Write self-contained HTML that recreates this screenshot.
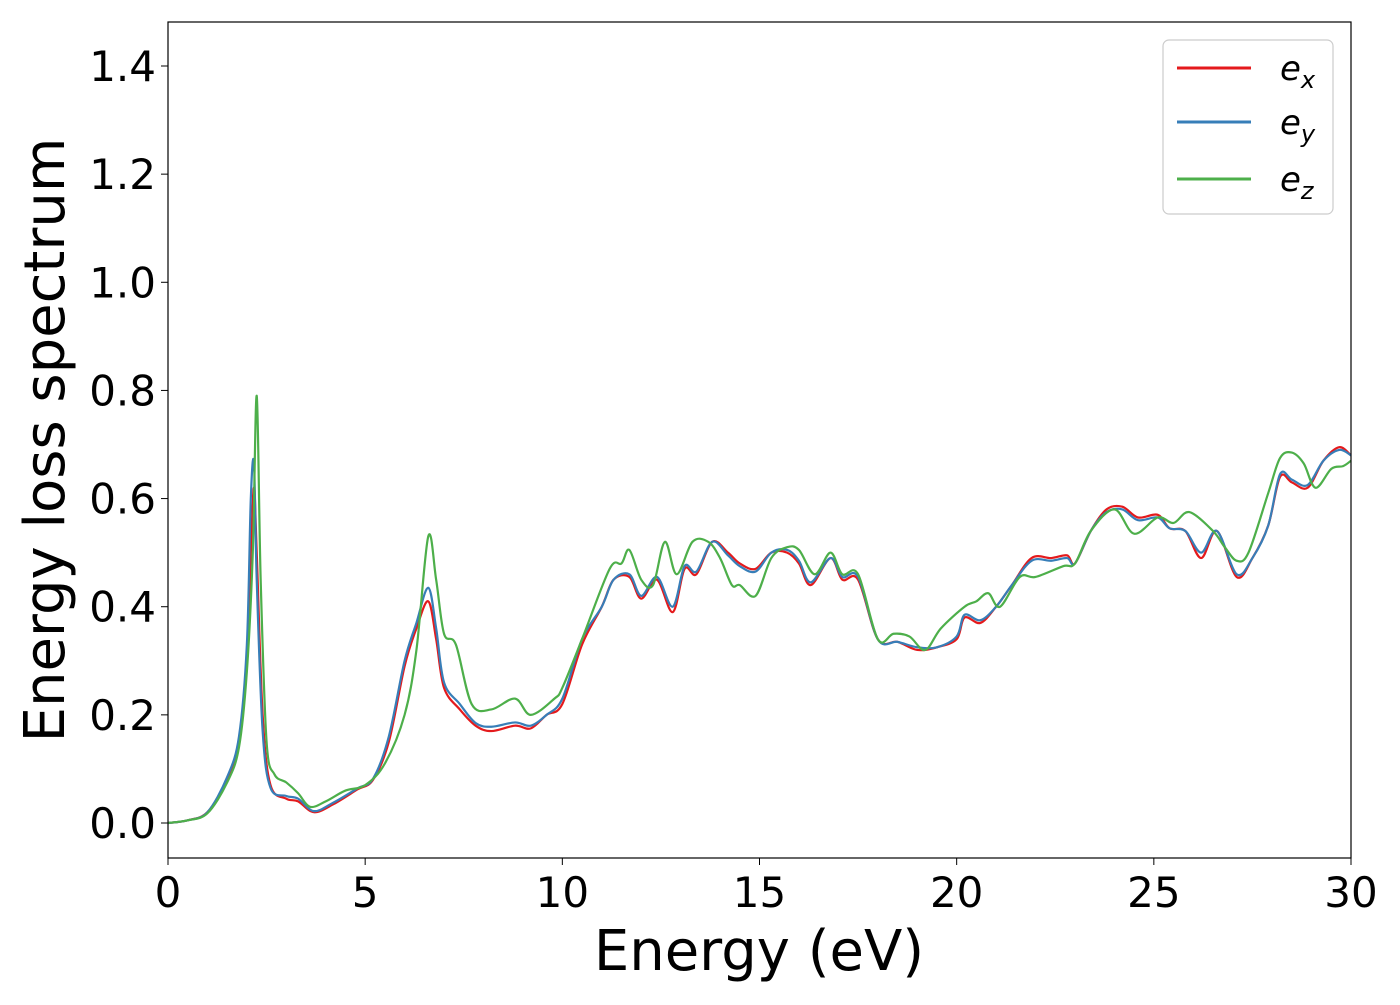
<!DOCTYPE html>
<html><head><meta charset="utf-8"><style>
body{margin:0;background:#fff;}
svg text{font-family:"DejaVu Sans","Liberation Sans",sans-serif;fill:#000;}
</style></head><body>
<svg id="chart" width="1400" height="1000" xmlns="http://www.w3.org/2000/svg">
<rect x="0" y="0" width="1400" height="1000" fill="#fff"/>
<g id="plot"></g>
<rect x="168" y="22" width="1183" height="836" fill="none" stroke="#000" stroke-width="1.2"/>
<g id="ticks"></g>
<text x="759" y="970" font-size="56" text-anchor="middle">Energy (eV)</text>
<text transform="translate(64,440) rotate(-90)" font-size="56" text-anchor="middle">Energy loss spectrum</text>
<g>
<rect x="1163" y="40" width="170" height="174" rx="6" fill="#fff" stroke="#ccc" stroke-width="1.2"/>
<g><line x1="1177" y1="68" x2="1251" y2="68" stroke="#e41a1c" stroke-width="3"/><text x="1280" y="80" font-size="34" font-style="italic">e<tspan font-size="24" dy="8">x</tspan></text></g>
<g><line x1="1177" y1="122" x2="1251" y2="122" stroke="#377eb8" stroke-width="3"/><text x="1280" y="134" font-size="34" font-style="italic">e<tspan font-size="24" dy="8">y</tspan></text></g>
<g><line x1="1177" y1="179" x2="1251" y2="179" stroke="#4daf4a" stroke-width="3"/><text x="1280" y="191" font-size="34" font-style="italic">e<tspan font-size="24" dy="8">z</tspan></text></g>
</g>
</svg>
<script>
const xTicks=[0,5,10,15,20,25,30];
const yTicks=[0.0,0.2,0.4,0.6,0.8,1.0,1.2,1.4];
const exX=[0,0.5,1,1.5,1.8,2.0,2.1,2.18,2.25,2.4,2.6,3.0,3.3,3.7,4.2,4.8,5.2,5.6,6.0,6.3,6.6,6.8,7.0,7.4,7.8,8.2,8.8,9.2,9.6,10,10.5,11,11.3,11.7,12,12.4,12.8,13.1,13.4,13.8,14.2,14.5,14.9,15.3,15.7,16,16.3,16.8,17.1,17.5,18,18.5,19,19.5,20,20.2,20.6,21,21.4,21.9,22.4,22.8,23,23.4,23.8,24.2,24.6,25.1,25.4,25.8,26.2,26.6,27.1,27.5,27.9,28.2,28.5,28.9,29.3,29.7,30];
const exY=[0,0.005,0.02,0.08,0.15,0.3,0.5,0.62,0.5,0.2,0.07,0.045,0.04,0.02,0.035,0.062,0.08,0.15,0.29,0.36,0.41,0.34,0.25,0.21,0.18,0.17,0.18,0.175,0.2,0.22,0.33,0.4,0.45,0.455,0.415,0.45,0.39,0.47,0.46,0.52,0.5,0.48,0.47,0.5,0.5,0.48,0.44,0.49,0.45,0.45,0.34,0.335,0.32,0.325,0.34,0.38,0.37,0.4,0.44,0.49,0.49,0.495,0.48,0.54,0.58,0.585,0.565,0.57,0.545,0.54,0.49,0.54,0.455,0.49,0.55,0.64,0.63,0.62,0.67,0.695,0.68];
const eyX=exX;
const eyY=[0,0.005,0.02,0.085,0.16,0.33,0.6,0.665,0.45,0.17,0.065,0.05,0.045,0.022,0.038,0.064,0.082,0.16,0.3,0.37,0.435,0.36,0.26,0.22,0.185,0.178,0.186,0.18,0.2,0.23,0.34,0.4,0.45,0.46,0.42,0.455,0.4,0.475,0.465,0.52,0.495,0.475,0.465,0.5,0.505,0.485,0.445,0.49,0.455,0.455,0.34,0.335,0.325,0.325,0.345,0.385,0.375,0.4,0.44,0.485,0.485,0.49,0.48,0.54,0.575,0.58,0.56,0.565,0.545,0.54,0.5,0.54,0.46,0.49,0.55,0.645,0.635,0.625,0.67,0.69,0.68];
const ezX=[0,0.5,1,1.5,1.8,2.0,2.15,2.25,2.35,2.5,2.7,3.0,3.3,3.6,4.0,4.5,5,5.5,6.0,6.3,6.6,6.8,7.0,7.3,7.7,8.2,8.8,9.2,9.8,10,10.5,11.2,11.5,11.7,12,12.3,12.6,12.9,13.3,13.7,14,14.3,14.5,14.9,15.3,15.7,16,16.4,16.8,17.1,17.5,18,18.4,18.8,19.2,19.6,20.2,20.5,20.8,21.1,21.6,22,22.7,23,23.4,24,24.5,25.1,25.5,25.9,26.5,26.8,27.1,27.4,27.9,28.2,28.5,28.8,29.1,29.5,29.8,30];
const ezY=[0,0.005,0.018,0.075,0.14,0.28,0.5,0.79,0.45,0.15,0.09,0.075,0.055,0.03,0.04,0.06,0.07,0.11,0.2,0.32,0.53,0.45,0.35,0.33,0.22,0.21,0.23,0.2,0.23,0.25,0.34,0.47,0.48,0.505,0.45,0.44,0.52,0.46,0.52,0.52,0.49,0.44,0.44,0.42,0.49,0.51,0.505,0.46,0.5,0.46,0.46,0.34,0.35,0.345,0.32,0.36,0.4,0.41,0.425,0.4,0.455,0.455,0.475,0.48,0.54,0.58,0.535,0.565,0.555,0.575,0.54,0.51,0.485,0.5,0.61,0.675,0.685,0.665,0.62,0.655,0.66,0.67];
const X0=168,X1=1351,Y0=823,Y14=66;
function sx(v){return X0+(X1-X0)*v/30;}
function sy(v){return Y0-(Y0-Y14)*v/1.4;}
const NS="http://www.w3.org/2000/svg";
function path(xs,ys){
  const p=xs.map((x,i)=>[sx(x),sy(ys[i])]);
  let d="M"+p[0][0]+","+p[0][1];
  for(let i=0;i<p.length-1;i++){
    const a=p[i-1]||p[i],b=p[i],c=p[i+1],e=p[i+2]||c;
    const c1=[b[0]+(c[0]-a[0])/6,b[1]+(c[1]-a[1])/6];
    const c2=[c[0]-(e[0]-b[0])/6,c[1]-(e[1]-b[1])/6];
    c1[0]=Math.min(Math.max(c1[0],b[0]),c[0]);c2[0]=Math.min(Math.max(c2[0],b[0]),c[0]);
    d+=" C"+c1.join(",")+" "+c2.join(",")+" "+c.join(",");
  }
  return d;
}
const plot=document.getElementById('plot');
[[exX,exY,'#e41a1c','line-ex'],[eyX,eyY,'#377eb8','line-ey'],[ezX,ezY,'#4daf4a','line-ez']].forEach(s=>{
  const el=document.createElementNS(NS,'path');
  el.setAttribute('d',path(s[0],s[1]));
  el.setAttribute('fill','none');el.setAttribute('stroke',s[2]);el.setAttribute('stroke-width','2.2');
  
  
  plot.appendChild(el);
});
const tg=document.getElementById('ticks');
xTicks.forEach(v=>{
  const l=document.createElementNS(NS,'line');
  l.setAttribute('x1',sx(v));l.setAttribute('x2',sx(v));l.setAttribute('y1',858);l.setAttribute('y2',865);l.setAttribute('stroke','#000');
  
  
  tg.appendChild(l);
  const t=document.createElementNS(NS,'text');
  t.setAttribute('x',sx(v));t.setAttribute('y',907);t.setAttribute('font-size','42');t.setAttribute('text-anchor','middle');
  t.textContent=v;
  
  
  tg.appendChild(t);
});
yTicks.forEach(v=>{
  const l=document.createElementNS(NS,'line');
  l.setAttribute('x1',161);l.setAttribute('x2',168);l.setAttribute('y1',sy(v));l.setAttribute('y2',sy(v));l.setAttribute('stroke','#000');
  
  
  tg.appendChild(l);
  const t=document.createElementNS(NS,'text');
  t.setAttribute('x',156);t.setAttribute('y',sy(v)+15);t.setAttribute('font-size','42');t.setAttribute('text-anchor','end');
  t.textContent=v.toFixed(1);
  
  
  tg.appendChild(t);
});
</script>
</body></html>
